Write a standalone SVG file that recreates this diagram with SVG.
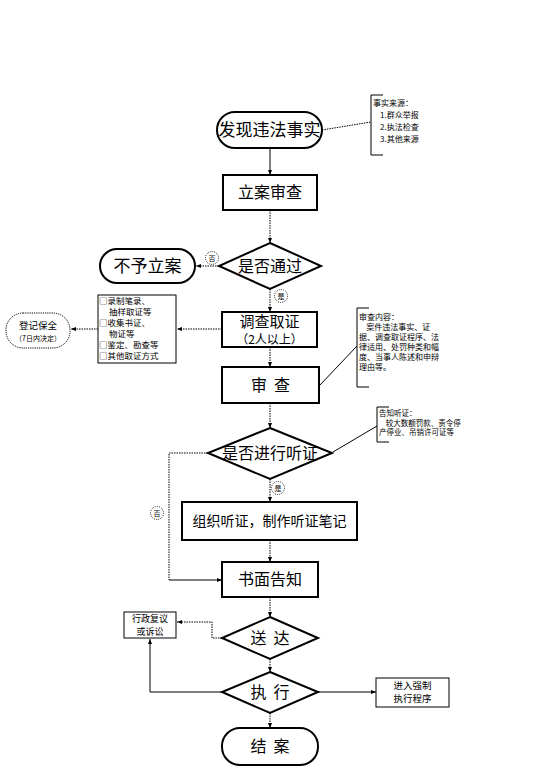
<svg xmlns="http://www.w3.org/2000/svg" width="553" height="775" viewBox="0 0 553 775">
<style>
text{font-family:"Noto Sans CJK SC","Noto Sans",sans-serif;fill:#000;}
.big{font-size:16px;text-anchor:middle;}
.mid{font-size:12px;text-anchor:middle;}
.sm{font-size:9.5px;text-anchor:middle;}
.sm2{font-size:9px;text-anchor:middle;}
.note{font-size:8px;}
.ev{font-size:8.5px;}
.hn{font-size:7.5px;}
.tiny{font-size:7px;text-anchor:middle;}
.box{fill:#fff;stroke:#000;stroke-width:2;}
.thin{fill:#fff;stroke:#000;stroke-width:1;}
.dotbox{fill:#fff;stroke:#000;stroke-width:1;stroke-dasharray:1.2 1;}
.dl{fill:none;stroke:#000;stroke-width:1;stroke-dasharray:1.5 1;}
.sl{fill:none;stroke:#000;stroke-width:1;}
.br{fill:none;stroke:#000;stroke-width:1;}
.lab{fill:#fff;stroke:#000;stroke-width:0.8;stroke-dasharray:1 1;}
.labt{font-size:7px;text-anchor:middle;}
</style>
<defs>
<marker id="arr" viewBox="0 0 10 10" refX="10" refY="5" markerWidth="5" markerHeight="5" orient="auto"><path d="M0,1 L10,5 L0,9 z" fill="#000"/></marker>
</defs>
<rect width="553" height="775" fill="#fff"/>

<g id="connectors">
<line class="sl" x1="270" y1="148" x2="270" y2="175" marker-end="url(#arr)"/>
<line class="dl" x1="322" y1="130" x2="371" y2="122"/>
<line class="dl" x1="270" y1="210" x2="270" y2="243" marker-end="url(#arr)"/>
<line class="dl" x1="219" y1="266" x2="196" y2="266" marker-end="url(#arr)"/>
<line class="dl" x1="270" y1="289" x2="270" y2="312" marker-end="url(#arr)"/>
<line class="dl" x1="222" y1="329" x2="177" y2="329" marker-end="url(#arr)"/>
<line class="dl" x1="98" y1="329" x2="71" y2="329" marker-end="url(#arr)"/>
<line class="dl" x1="270" y1="347" x2="270" y2="367" marker-end="url(#arr)"/>
<line class="sl" x1="320" y1="385" x2="357" y2="346"/>
<line class="dl" x1="270" y1="403" x2="270" y2="428" marker-end="url(#arr)"/>
<line class="sl" x1="333" y1="452" x2="377" y2="426"/>
<polyline class="dl" points="208,453 169,453 169,580"/>
<line class="sl" x1="169" y1="580" x2="222" y2="580" marker-end="url(#arr)"/>
<line class="dl" x1="270" y1="479" x2="270" y2="502" marker-end="url(#arr)"/>
<line class="dl" x1="270" y1="540" x2="270" y2="562" marker-end="url(#arr)"/>
<line class="dl" x1="270" y1="597" x2="270" y2="617" marker-end="url(#arr)"/>
<polyline class="dl" points="222,638 212,638 212,622 177,622" marker-end="url(#arr)"/>
<line class="dl" x1="270" y1="659" x2="270" y2="672" marker-end="url(#arr)"/>
<polyline class="sl" points="222,692 150,692 150,639" marker-end="url(#arr)"/>
<line class="sl" x1="318" y1="692" x2="376" y2="692" marker-end="url(#arr)"/>
<line class="dl" x1="270" y1="713" x2="270" y2="728" marker-end="url(#arr)"/>
</g>

<g id="n-faxian">
<rect class="box" x="217" y="112" width="105" height="36" rx="18"/>
<text class="big" x="269.5" y="136" style="font-size:17px">发现违法事实</text>
</g>

<g id="note-source">
<polyline class="br" points="383,95 371,95 371,155 383,155"/>
<text class="note" x="373" y="106">事实来源：</text>
<text class="note" x="380" y="118">1.群众举报</text>
<text class="note" x="380" y="130">2.执法检查</text>
<text class="note" x="380" y="142">3.其他来源</text>
</g>

<g id="n-lian">
<rect class="box" x="223" y="175" width="94" height="35"/>
<text class="big" x="270" y="198">立案审查</text>
</g>

<g id="n-tongguo">
<polygon class="box" points="270,243 321,266 270,289 219,266"/>
<text class="big" x="270" y="272">是否通过</text>
</g>

<g id="l-fou1">
<circle class="lab" cx="212" cy="258" r="6.5"/>
<text class="labt" x="212" y="260.5">否</text>
</g>
<g id="l-shi1">
<circle class="lab" cx="281" cy="296" r="6.5"/>
<text class="labt" x="281" y="298.5">是</text>
</g>

<g id="n-buyu">
<rect class="box" x="100" y="249" width="95" height="34" rx="17"/>
<text class="big" x="147.5" y="272" style="font-size:17px">不予立案</text>
</g>

<g id="n-diaocha">
<rect class="box" x="222" y="312" width="95" height="35"/>
<text class="big" x="269.5" y="327" style="font-size:15px">调查取证</text>
<text class="mid" x="269.5" y="344">（2人以上）</text>
</g>

<g id="n-evidence">
<rect class="thin" x="98" y="295" width="78" height="68"/>
<text class="ev" x="99" y="304">□录制笔录、</text>
<text class="ev" x="109" y="315">抽样取证等</text>
<text class="ev" x="99" y="326">□收集书证、</text>
<text class="ev" x="109" y="337">物证等</text>
<text class="ev" x="99" y="348">□鉴定、勘查等</text>
<text class="ev" x="99" y="359">□其他取证方式</text>
</g>

<g id="n-dengji">
<rect class="dotbox" x="6" y="313" width="64" height="35" rx="17"/>
<text class="sm" x="38" y="329">登记保全</text>
<text class="tiny" x="38" y="341">（7日内决定）</text>
</g>

<g id="n-shencha">
<rect class="box" x="222" y="367" width="97" height="36"/>
<text class="big" x="270.5" y="391" xml:space="preserve">审  查</text>
</g>

<g id="note-review">
<polyline class="br" points="369,308 357,308 357,387 369,387"/>
<text class="note" x="359" y="320">审查内容：</text>
<text class="note" x="359" y="330" xml:space="preserve">    案件违法事实、证</text>
<text class="note" x="359" y="340">据、调查取证程序、法</text>
<text class="note" x="359" y="350">律适用、处罚种类和幅</text>
<text class="note" x="359" y="360">度、当事人陈述和申辩</text>
<text class="note" x="359" y="370">理由等。</text>
</g>

<g id="n-tingzheng">
<polygon class="box" points="270,428 332,453 270,479 208,453"/>
<text class="big" x="270" y="459">是否进行听证</text>
</g>

<g id="note-hearing">
<polyline class="br" points="389,407 377,407 377,442 389,442"/>
<text class="hn" x="379" y="416">告知听证：</text>
<text class="hn" x="379" y="425.5" xml:space="preserve">    较大数额罚款、责令停</text>
<text class="hn" x="379" y="435">产停业、吊销许可证等</text>
</g>

<g id="l-fou2">
<circle class="lab" cx="157" cy="513" r="6.5"/>
<text class="labt" x="157" y="515.5">否</text>
</g>
<g id="l-shi2">
<circle class="lab" cx="278" cy="488" r="6.5"/>
<text class="labt" x="278" y="490.5">是</text>
</g>

<g id="n-zuzhi">
<rect class="box" x="182" y="502" width="175" height="38"/>
<text class="big" x="269.5" y="526" style="font-size:14px">组织听证，制作听证笔记</text>
</g>

<g id="n-shumian">
<rect class="box" x="222" y="562" width="96" height="35"/>
<text class="big" x="270" y="585">书面告知</text>
</g>

<g id="n-songda">
<polygon class="box" points="270,617 318,638 270,659 222,638"/>
<text class="big" x="270" y="644" xml:space="preserve">送  达</text>
</g>

<g id="n-fuyi">
<rect class="thin" x="124" y="612" width="52" height="26"/>
<text class="sm2" x="150" y="622">行政复议</text>
<text class="sm2" x="150" y="635">或诉讼</text>
</g>

<g id="n-zhixing">
<polygon class="box" points="270,672 318,692 270,713 222,692"/>
<text class="big" x="270" y="698" xml:space="preserve">执  行</text>
</g>

<g id="n-qiangzhi">
<rect class="thin" x="376" y="678" width="73" height="29"/>
<text class="sm" x="412.5" y="689">进入强制</text>
<text class="sm" x="412.5" y="702">执行程序</text>
</g>

<g id="n-jiean">
<rect class="box" x="222" y="728" width="96" height="37" rx="18"/>
<text class="big" x="270" y="752" xml:space="preserve">结  案</text>
</g>
</svg>
